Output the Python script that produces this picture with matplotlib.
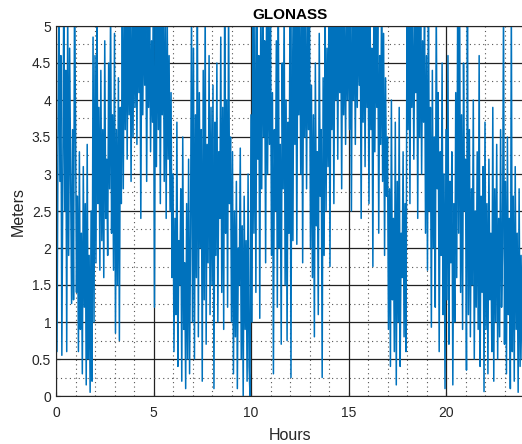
import numpy as np
import matplotlib
matplotlib.use('Agg')
import matplotlib.pyplot as plt
from matplotlib.ticker import MultipleLocator

plt.rcParams['font.family'] = ['Liberation Sans', 'DejaVu Sans']

# error values, 20 samples per hour (every 3 min)
h00_06 = [4.2, 0.6, 3.3, 5.4, 2.9, 4.6, 0.55, 3.1, 5.5, 2.5, 4.4, 0.6, 5.3, 1.9, 4.7, 3.0, 1.25, 3.6, 1.3, 5.4,
          3.8, 1.4, 2.7, 0.6, 3.3, 0.9, 2.2, 0.3, 3.1, 1.2, 2.6, 0.15, 3.4, 0.5, 1.9, 0.05, 2.5, 0.2, 4.85, 1.0,
          4.6, 1.8, 5.4, 2.6, 3.9, 1.7, 4.4, 2.1, 3.6, 1.6, 4.8, 2.4, 3.2, 1.9, 4.5, 2.8, 5.3, 2.2, 3.8, 1.7,
          4.9, 0.85, 3.6, 1.5, 4.3, 0.75, 3.9, 2.6, 5.4, 2.8, 5.3, 3.6, 5.5, 3.2, 5.4, 3.8, 5.4, 2.9, 5.3, 3.5,
          5.5, 3.9, 5.4, 3.4, 5.5, 4.1, 5.3, 2.4, 5.4, 3.8, 5.5, 4.2, 5.4, 2.9, 5.3, 3.9, 5.4, 3.3, 4.8, 3.7,
          5.4, 1.2, 5.3, 3.1, 5.5, 3.6, 5.3, 2.6, 5.4, 3.8, 5.4, 2.9, 5.2, 2.4, 5.3, 3.2, 4.6, 2.5, 4.1, 1.6]
h06_12 = [3.0, 0.6, 2.4, 1.1, 3.7, 0.4, 2.1, 1.5, 2.8, 0.2, 3.5, 0.9, 1.8, 0.1, 2.6, 0.5, 3.2, 0.3, 2.2, 5.3,
          1.0, 4.7, 0.5, 3.8, 1.6, 5.4, 0.8, 4.1, 2.0, 3.6, 0.2, 4.4, 1.3, 5.3, 0.7, 3.4, 1.8, 4.6, 1.1, 3.9,
          1.5, 4.2, 0.1, 3.7, 1.9, 4.5, 1.0, 3.3, 2.4, 4.85, 1.4, 3.9, 0.9, 5.4, 2.2, 4.0, 1.2, 5.3, 2.6, 3.5,
          1.0, 3.3, 0.3, 2.5, 0.8, 2.9, 0.1, 2.0, 1.5, 3.35, 0.5, 2.3, 0.0, 2.7, 0.9, 2.1, 0.2, 3.0, 0.4, 0.0,
          3.8, 1.0, 5.4, 2.2, 5.1, 1.4, 5.3, 3.2, 4.6, 1.05, 5.2, 2.8, 5.4, 3.5, 4.8, 1.8, 5.5, 3.0, 5.0, 3.4,
          5.3, 1.9, 4.1, 0.3, 3.6, 2.5, 4.8, 1.2, 5.4, 2.0, 3.4, 0.7, 4.5, 2.8, 5.3, 1.5, 4.0, 0.75, 3.7, 2.2]
h12_18 = [5.4, 0.25, 5.2, 2.1, 5.5, 3.4, 5.0, 2.05, 5.3, 3.8, 5.3, 3.0, 5.4, 1.8, 5.1, 3.5, 5.3, 2.8, 5.2, 3.6,
          5.4, 2.0, 4.2, 1.6, 3.8, 0.8, 4.5, 2.3, 3.3, 1.1, 4.9, 2.7, 3.6, 0.25, 4.3, 1.9, 5.4, 2.5, 4.7, 3.1,
          5.5, 1.75, 5.3, 3.6, 5.4, 2.6, 5.3, 4.0, 5.4, 3.2, 5.5, 4.1, 5.3, 2.8, 5.4, 3.8, 5.2, 3.4, 5.3, 4.0,
          5.4, 3.6, 5.3, 2.5, 5.5, 4.0, 5.3, 3.4, 5.4, 3.9, 5.3, 4.2, 5.1, 2.4, 5.5, 3.7, 5.4, 3.1, 5.4, 3.9,
          5.0, 2.6, 5.4, 3.6, 4.7, 1.75, 5.3, 3.3, 5.1, 3.9, 5.4, 2.2, 4.6, 3.4, 5.5, 2.9, 4.9, 1.9, 4.3, 2.7,
          3.5, 0.9, 2.8, 0.4, 4.0, 1.3, 2.4, 0.6, 3.7, 0.15, 2.9, 1.0, 3.9, 0.4, 2.2, 1.6, 3.3, 0.8, 2.6, 0.6]
h18_24 = [5.4, 3.6, 5.5, 2.6, 5.3, 3.9, 5.3, 3.2, 5.0, 4.1, 5.4, 2.4, 5.3, 3.5, 5.5, 3.0, 4.8, 3.7, 5.3, 2.2,
          4.6, 1.7, 5.4, 2.5, 3.9, 0.93, 4.4, 2.0, 3.5, 1.2, 5.3, 2.8, 4.1, 0.6, 3.3, 1.9, 4.5, 1.1, 3.0, 0.1,
          3.6, 1.3, 4.6, 0.7, 2.9, 1.8, 3.3, 0.15, 2.6, 1.0, 4.1, 1.6, 5.4, 2.2, 5.3, 1.4, 3.8, 0.9, 4.5, 2.5,
          3.2, 0.35, 5.4, 1.1, 3.6, 0.8, 2.8, 1.5, 4.0, 0.5, 2.5, 1.2, 3.3, 0.9, 4.6, 0.4, 2.7, 1.4, 3.1, 0.06,
          3.7, 0.9, 2.6, 0.3, 3.2, 1.3, 2.2, 0.6, 3.9, 0.2, 2.8, 1.0, 3.4, 0.5, 2.4, 0.8, 3.6, 1.2, 2.0, 5.3,
          0.7, 2.9, 0.3, 3.5, 1.1, 2.4, 0.1, 5.3, 0.6, 2.7, 0.2, 3.1, 0.9, 2.2, 0.05, 2.8, 0.4, 1.9, 0.5, 2.3]

err = np.array(h00_06 + h06_12 + h12_18 + h18_24)
hours = np.arange(len(err)) * 0.05

fig = plt.figure(figsize=(5.22, 4.44), dpi=100)
ax = fig.add_axes([56/522, 48/444, 468/522, 370/444])
ax.plot(hours, err, color='#0072BD', lw=1.1)

ax.set_xlim(0, 24)
ax.set_ylim(0, 5)
ax.xaxis.set_major_locator(MultipleLocator(5))
ax.xaxis.set_minor_locator(MultipleLocator(1))
ax.yaxis.set_minor_locator(MultipleLocator(0.25))
ax.set_yticks(np.arange(0, 5.01, 0.5))
ax.set_yticklabels(['0', '0.5', '1', '1.5', '2', '2.5', '3', '3.5', '4', '4.5', '5'])

ax.grid(which='major', color='#222222', lw=0.9, ls='-')
ax.grid(which='minor', color='#555555', lw=0.8, ls=(0, (1, 3)))
ax.set_axisbelow(True)

ax.tick_params(which='both', direction='in', colors='#262626', labelsize=10, length=3)
ax.tick_params(axis='x', pad=7)
ax.tick_params(which='minor', length=0)
for s in ax.spines.values():
    s.set_color('#262626')
    s.set_linewidth(0.8)

ax.set_title('GLONASS', fontsize=11, fontweight='bold', pad=5)
ax.set_xlabel('Hours', fontsize=11.5, color='#262626', labelpad=6)
ax.set_ylabel('Meters', fontsize=11.5, color='#262626', labelpad=4)

fig.savefig('out.png', dpi=100)
